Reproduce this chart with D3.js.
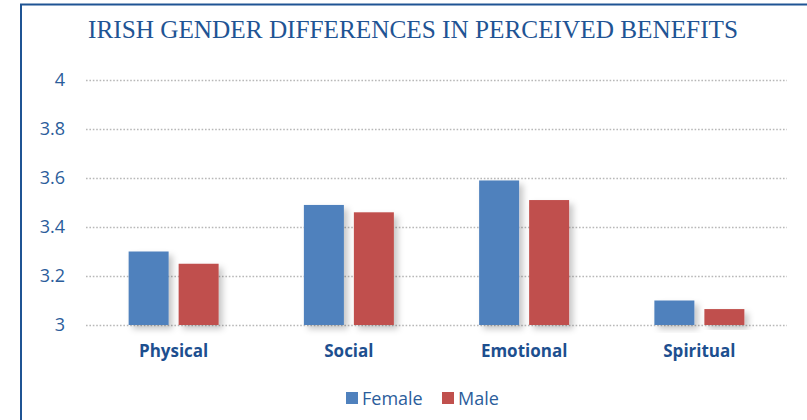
<!DOCTYPE html>
<html>
<head>
<meta charset="utf-8">
<script src="https://cdn.jsdelivr.net/npm/d3@7"></script>
<style>
  body { margin: 0; background: #fff; }
  svg { display: block; }
</style>
</head>
<body>
<svg width="807" height="420"></svg>
<script>
var categories = ["Physical", "Social", "Emotional", "Spiritual"];
var seriesNames = ["Female", "Male"];
var femaleValues = [3.30, 3.49, 3.59, 3.10];
var maleValues = [3.25, 3.46, 3.51, 3.065];
var yTicks = [3, 3.2, 3.4, 3.6, 3.8, 4];
var colors = ["#4f81bd", "#c0504d"];

var svg = d3.select("svg");
var margin = {top: 80, left: 86, right: 20, bottom: 95};
var width = 807 - margin.left - margin.right,   // plot spans 86..787
    height = 420 - margin.top - margin.bottom;  // 80..325

var values = [femaleValues, maleValues];

// frame
svg.append("path")
  .attr("d", "M21,420 V4.5 H807")
  .attr("fill", "none")
  .attr("stroke", "#1f5494")
  .attr("stroke-width", 2);

// title
svg.append("text")
  .attr("x", 88).attr("y", 37.5)
  .attr("textLength", 650)
  .attr("lengthAdjust", "spacingAndGlyphs")
  .style("font-family", "'Liberation Serif', serif")
  .style("font-size", "25.5px")
  .style("fill", "#1f5494")
  .text("IRISH GENDER DIFFERENCES IN PERCEIVED BENEFITS");

// shadow for bars
var defs = svg.append("defs");
var f = defs.append("filter").attr("id", "shadow")
  .attr("x", "-20%").attr("y", "-20%").attr("width", "150%").attr("height", "150%");
f.append("feDropShadow")
  .attr("dx", 4).attr("dy", 4)
  .attr("stdDeviation", 3)
  .attr("flood-color", "#000")
  .attr("flood-opacity", 0.22);

var g = svg.append("g").attr("transform", "translate(" + margin.left + "," + margin.top + ")");

var y = d3.scaleLinear().domain([3, 4]).range([height, 0]);

var x0 = d3.scaleBand().domain(categories).range([0, width])
  .paddingInner(0.4865).paddingOuter(0.2433);

var x1 = d3.scaleBand().domain(seriesNames).range([0, x0.bandwidth()])
  .paddingInner(0.2);

// gridlines
g.selectAll(".grid").data(yTicks).enter().append("line")
  .attr("class", "grid")
  .attr("x1", 0).attr("x2", width)
  .attr("y1", function(d){ return y(d) + 0.5; })
  .attr("y2", function(d){ return y(d) + 0.5; })
  .attr("stroke", "#b8b8b8")
  .attr("stroke-width", 1.6)
  .attr("stroke-dasharray", "1.6,1.8");

// y axis labels
var yAxis = d3.axisLeft(y).tickValues(yTicks).tickSize(0).tickPadding(21)
  .tickFormat(function(d){ return d3.format("")(d); });
var ya = g.append("g").call(yAxis);
ya.select(".domain").remove();
ya.selectAll("text")
  .style("font-family", "'Open Sans', sans-serif")
  .style("font-size", "18px")
  .style("fill", "#2b5d9b");

// bars
var groups = g.selectAll(".cat").data(categories).enter().append("g")
  .attr("class", "cat")
  .attr("transform", function(d){ return "translate(" + x0(d) + ",0)"; });

groups.selectAll("rect")
  .data(function(d, i){ return seriesNames.map(function(s, j){ return {s: s, v: values[j][i], j: j}; }); })
  .enter().append("rect")
  .attr("x", function(d){ return x1(d.s); })
  .attr("width", x1.bandwidth())
  .attr("y", function(d){ return y(d.v); })
  .attr("height", function(d){ return y(3) - y(d.v); })
  .attr("fill", function(d){ return colors[d.j]; })
  .attr("filter", "url(#shadow)");

// category labels
var xAxis = d3.axisBottom(x0).tickSize(0).tickPadding(20);
var xa = g.append("g").attr("transform", "translate(0," + height + ")").call(xAxis);
xa.select(".domain").remove();
xa.selectAll("text")
  .style("font-family", "'Open Sans', sans-serif")
  .style("font-size", "17px")
  .style("font-weight", "bold")
  .style("fill", "#1d4f8f");

// legend
var legendX = [346, 442];
var legend = svg.append("g");
seriesNames.forEach(function(s, i){
  legend.append("rect")
    .attr("x", legendX[i]).attr("y", 392)
    .attr("width", 12).attr("height", 12)
    .attr("fill", colors[i]);
  legend.append("text")
    .attr("x", legendX[i] + 16).attr("y", 404.5)
    .style("font-family", "'Open Sans', sans-serif")
    .style("font-size", "18px")
    .style("fill", "#2b5d9b")
    .text(s);
});
</script>
</body>
</html>
